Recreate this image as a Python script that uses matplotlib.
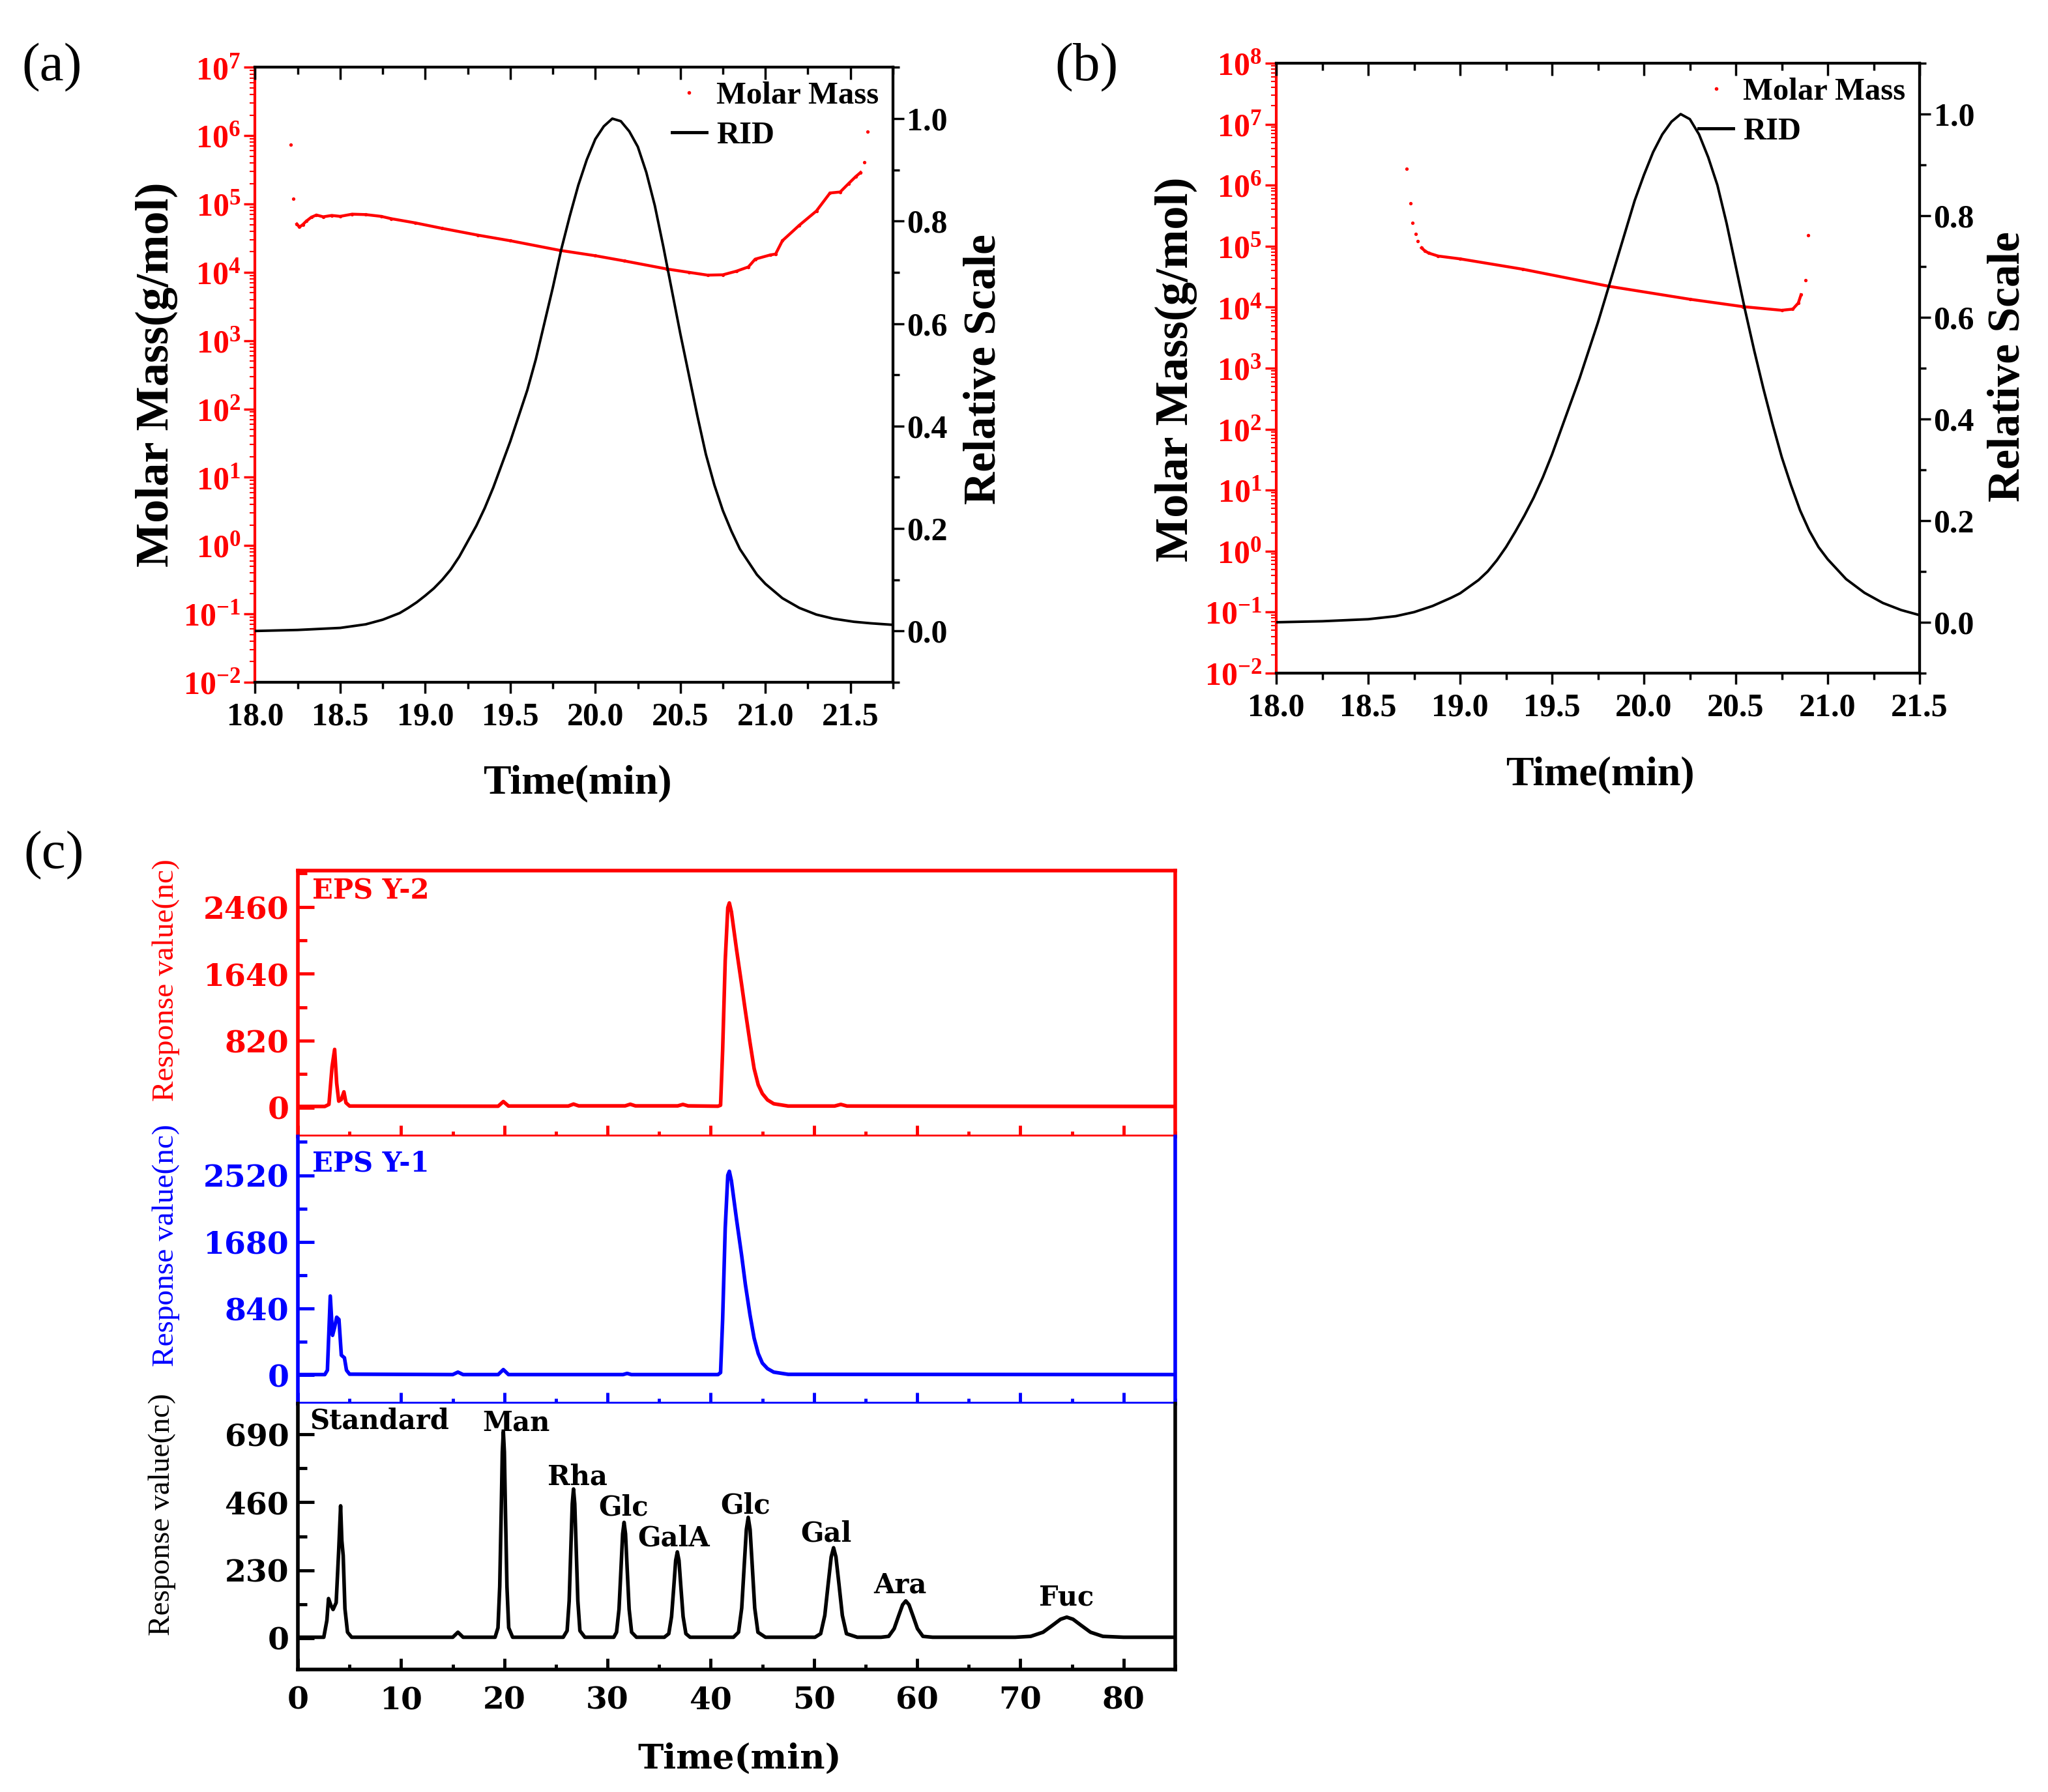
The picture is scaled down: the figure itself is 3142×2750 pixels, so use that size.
import numpy as np
import matplotlib
matplotlib.use('Agg')
import matplotlib.pyplot as plt
from matplotlib.ticker import LogLocator, NullFormatter, MultipleLocator, FormatStrFormatter
from matplotlib.lines import Line2D

plt.rcParams['font.family'] = 'Liberation Serif'
plt.rcParams['mathtext.fontset'] = 'custom'
plt.rcParams['mathtext.rm'] = 'Liberation Serif'
plt.rcParams['mathtext.bf'] = 'Liberation Serif:bold'

# ---- (a) molar mass / RID ----
rid_a_t = [18.0, 18.25, 18.5, 18.65, 18.75, 18.85, 18.9, 18.95, 19.0, 19.05, 19.1, 19.15,
           19.2, 19.25, 19.3, 19.35, 19.4, 19.45, 19.5, 19.55, 19.6, 19.65, 19.7, 19.75,
           19.8, 19.85, 19.9, 19.95, 20.0, 20.05, 20.1, 20.15, 20.2, 20.25, 20.3, 20.35,
           20.4, 20.45, 20.5, 20.55, 20.6, 20.65, 20.7, 20.75, 20.8, 20.85, 20.9, 20.95,
           21.0, 21.1, 21.2, 21.3, 21.4, 21.52, 21.62, 21.75]
rid_a_v = [0.0, 0.002, 0.006, 0.013, 0.022, 0.035, 0.045, 0.056, 0.069, 0.083, 0.1, 0.12,
           0.145, 0.175, 0.205, 0.24, 0.28, 0.325, 0.37, 0.42, 0.47, 0.53, 0.60, 0.67,
           0.745, 0.81, 0.87, 0.92, 0.96, 0.985, 1.0, 0.995, 0.975, 0.945, 0.895, 0.83,
           0.75, 0.665, 0.58, 0.50, 0.42, 0.345, 0.285, 0.235, 0.195, 0.16, 0.135, 0.11,
           0.092, 0.064, 0.045, 0.032, 0.024, 0.018, 0.015, 0.012]
mm_a_t = [18.21, 18.225, 18.245, 18.26, 18.28, 18.30, 18.33, 18.36, 18.40, 18.45, 18.50,
          18.57, 18.65, 18.74, 18.80, 18.94, 19.10, 19.31, 19.50, 19.79, 20.00, 20.17,
          20.42, 20.55, 20.66, 20.75, 20.83, 20.90, 20.94, 21.03, 21.06, 21.10, 21.20,
          21.30, 21.38, 21.44, 21.49, 21.53, 21.56, 21.58, 21.60]
mm_a_v = [7.4e5, 1.2e5, 5.1e4, 4.6e4, 5.0e4, 5.6e4, 6.4e4, 6.9e4, 6.5e4, 6.8e4, 6.6e4,
          7.1e4, 7.0e4, 6.6e4, 6.1e4, 5.3e4, 4.4e4, 3.5e4, 2.9e4, 2.1e4, 1.75e4, 1.47e4,
          1.12e4, 1.0e4, 9.1e3, 9.2e3, 1.04e4, 1.2e4, 1.56e4, 1.8e4, 1.85e4, 2.9e4, 4.9e4,
          7.9e4, 1.45e5, 1.5e5, 2.0e5, 2.5e5, 2.9e5, 4.1e5, 1.14e6]

# ---- (b) molar mass / RID ----
rid_b_t = [18.0, 18.25, 18.5, 18.65, 18.75, 18.85, 18.9, 18.95, 19.0, 19.05, 19.1, 19.15,
           19.2, 19.25, 19.3, 19.35, 19.4, 19.45, 19.5, 19.55, 19.6, 19.65, 19.7, 19.75,
           19.8, 19.85, 19.9, 19.95, 20.0, 20.05, 20.1, 20.15, 20.2, 20.25, 20.3, 20.35,
           20.4, 20.45, 20.5, 20.55, 20.6, 20.65, 20.7, 20.75, 20.8, 20.85, 20.9, 20.95,
           21.0, 21.1, 21.2, 21.3, 21.4, 21.5]
rid_b_v = [0.0, 0.002, 0.006, 0.012, 0.02, 0.032, 0.04, 0.048, 0.057, 0.07, 0.083, 0.1,
           0.122, 0.148, 0.178, 0.21, 0.245, 0.285, 0.33, 0.38, 0.43, 0.48, 0.535, 0.59,
           0.65, 0.71, 0.77, 0.83, 0.88, 0.925, 0.96, 0.985, 1.0, 0.99, 0.96, 0.915,
           0.86, 0.785, 0.70, 0.615, 0.535, 0.46, 0.39, 0.325, 0.27, 0.22, 0.18, 0.148,
           0.124, 0.085, 0.058, 0.038, 0.024, 0.014]
mm_b_t = [18.71, 18.73, 18.74, 18.76, 18.77, 18.79, 18.81, 18.83, 18.88, 19.0, 19.34,
          19.81, 20.25, 20.54, 20.75, 20.81, 20.84, 20.855, 20.88, 20.895]
mm_b_v = [1.86e6, 5.0e5, 2.4e5, 1.6e5, 1.2e5, 9.4e4, 8.3e4, 7.7e4, 6.9e4, 6.2e4, 4.2e4,
          2.2e4, 1.35e4, 1.02e4, 8.9e3, 9.3e3, 1.17e4, 1.6e4, 2.8e4, 1.5e5]

# ---- (c) HPAEC chromatograms ----
y2_t = [0, 2.6, 3.0, 3.3, 3.55, 3.75, 3.95, 4.2, 4.45, 4.65, 5.0, 19.4, 19.9, 20.4,
        26.2, 26.7, 27.2, 31.7, 32.2, 32.7, 36.8, 37.3, 37.8, 40.7, 40.95, 41.15, 41.4,
        41.65, 41.8, 42.0, 42.5, 43.0, 43.35, 43.8, 44.2, 44.6, 45.0, 45.5, 46.1, 47.5,
        52.0, 52.6, 53.2, 85]
y2_v = [15, 15, 40, 500, 714, 300, 80, 100, 194, 60, 20, 18, 75, 20,
        20, 44, 22, 22, 42, 22, 22, 40, 22, 18, 30, 700, 1800,
        2450, 2508, 2400, 1935, 1500, 1186, 800, 480, 280, 172, 95, 48, 20,
        20, 40, 20, 15]

y1_t = [0, 2.6, 2.85, 3.13, 3.35, 3.55, 3.75, 3.97, 4.2, 4.5, 4.7, 5.0, 15.0, 15.5, 16.0,
        19.4, 19.9, 20.4, 31.5, 31.9, 32.3, 40.7, 40.95, 41.15, 41.4, 41.65, 41.8, 42.0,
        42.5, 43.0, 43.35, 43.8, 44.2, 44.6, 45.0, 45.5, 46.1, 47.5, 85]
y1_v = [5, 5, 60, 996, 500, 600, 729, 700, 250, 217, 60, 10, 5, 36, 5,
        5, 68, 5, 5, 20, 5, 5, 30, 700, 1850, 2520, 2570, 2450,
        1960, 1500, 1146, 760, 466, 270, 150, 80, 36, 8, 5]

std_t = [0, 2.5, 2.8, 2.96, 3.2, 3.4, 3.7, 3.95, 4.13, 4.25, 4.38, 4.55, 4.8, 5.2,
         15.0, 15.5, 16.0,
         19.1, 19.38, 19.55, 19.69, 19.8, 19.9, 20.0, 20.11, 20.25, 20.42, 20.8,
         25.7, 26.08, 26.28, 26.44, 26.58, 26.7, 26.82, 26.96, 27.12, 27.32, 27.8,
         30.6, 30.87, 31.11, 31.3, 31.46, 31.6, 31.74, 31.9, 32.09, 32.33, 32.8,
         35.5, 35.93, 36.2, 36.42, 36.6, 36.76, 36.92, 37.1, 37.32, 37.59, 38.0,
         42.2, 42.69, 43.0, 43.24, 43.45, 43.63, 43.81, 44.02, 44.26, 44.57, 45.3,
         50.1, 50.65, 51.05, 51.38, 51.67, 51.9, 52.13, 52.42, 52.75, 53.15, 54.2,
         56.5, 57.24, 57.77, 58.21, 58.59, 58.9, 59.21, 59.59, 60.03, 60.56, 61.5,
         69.5, 71.0, 72.2, 73.1, 73.9, 74.5, 75.1, 75.9, 76.8, 78.0, 80.0, 85]
std_v = [3, 3, 60, 134, 110, 97, 120, 300, 448, 330, 280, 100, 20, 3,
         3, 20, 3,
         3, 35, 175, 420, 630, 700, 630, 420, 175, 35, 3,
         3, 25, 126, 303, 455, 505, 455, 303, 126, 25, 3,
         3, 20, 98, 235, 353, 392, 353, 235, 98, 20, 3,
         3, 15, 73, 175, 263, 292, 263, 175, 73, 15, 3,
         3, 20, 102, 245, 368, 409, 368, 245, 102, 20, 3,
         3, 15, 77, 184, 275, 306, 275, 184, 77, 15, 3,
         3, 6, 32, 76, 113, 126, 113, 76, 32, 6, 3,
         3, 6, 20, 43, 64, 71, 64, 43, 20, 6, 3, 3]

sugar_names = ['Man', 'Rha', 'Glc', 'GalA', 'Glc', 'Gal', 'Ara', 'Fuc']
sugar_label_t = [17.9, 24.2, 29.1, 32.9, 40.95, 48.7, 55.8, 71.8]
sugar_label_v = [730, 547, 442, 339, 448, 354, 179, 137]

fig = plt.figure(figsize=(31.42, 27.5), dpi=100)
bold = dict(weight='bold')


def mw_panel(rect, rid_t, rid_v, mm_t, mm_v, dense, xmax, top_exp):
    ax = fig.add_axes(rect)
    ax.set_yscale('log')
    ax.plot(mm_t[dense], mm_v[dense], color='red', lw=3.2, zorder=2)
    ax.plot(mm_t, mm_v, ls='none', marker='o', ms=3.8, mec='none', color='red', zorder=3)
    ax.set_xlim(18.0, xmax)
    ax.set_ylim(1e-2, 10.0 ** top_exp)
    exps = list(range(-2, top_exp + 1))
    ax.set_yticks([10.0 ** e for e in exps], [r'$\mathbf{10^{%d}}$' % e for e in exps])
    ax.yaxis.set_minor_locator(LogLocator(base=10, subs=np.arange(2, 10), numticks=40))
    ax.yaxis.set_minor_formatter(NullFormatter())
    ax.set_xticks(np.arange(18.0, xmax + 0.01, 0.5))
    ax.xaxis.set_major_formatter(FormatStrFormatter('%.1f'))
    ax.xaxis.set_minor_locator(MultipleLocator(0.25))
    ax.tick_params(axis='y', which='both', colors='red', direction='out', labelsize=36, pad=4)
    ax.tick_params(axis='y', which='major', length=12, width=2.5)
    ax.tick_params(axis='y', which='minor', length=6, width=1.5)
    ax.tick_params(axis='x', which='both', direction='out', labelsize=36, width=2.5)
    ax.tick_params(axis='x', which='major', length=12, pad=10)
    ax.tick_params(axis='x', which='minor', length=7)
    for lab in ax.get_xticklabels():
        lab.set_fontweight('bold')
    for s in ax.spines.values():
        s.set_linewidth(3)
    ax.spines['left'].set_color('red')

    ax2 = ax.twinx()
    ax2.plot(rid_t, rid_v, color='black', lw=2.8)
    ax2.set_ylim(-0.1, 1.1)
    ax2.set_yticks(np.arange(0, 1.01, 0.2))
    ax2.yaxis.set_major_formatter(FormatStrFormatter('%.1f'))
    ax2.yaxis.set_minor_locator(MultipleLocator(0.1))
    ax2.tick_params(axis='y', which='both', direction='out', labelsize=36, width=2.5)
    ax2.tick_params(axis='y', which='major', length=12)
    ax2.tick_params(axis='y', which='minor', length=7)
    for lab in ax2.get_yticklabels():
        lab.set_fontweight('bold')
    ax2.xaxis.set_visible(True)
    ax2.tick_params(axis='x', which='both', bottom=False, top=True, labelbottom=False,
                    labeltop=False, direction='in', width=2.5)
    ax2.tick_params(axis='x', which='major', length=14)
    ax2.tick_params(axis='x', which='minor', length=8)
    ax2.spines['left'].set_visible(False)
    for k in ['top', 'right', 'bottom']:
        ax2.spines[k].set_linewidth(3)

    handles = [Line2D([], [], ls='none', marker='o', ms=4, mec='none', color='red'),
               Line2D([], [], color='black', lw=3.5)]
    ax2.legend(handles, ['Molar Mass', 'RID'], loc='upper right', frameon=False,
               prop=dict(weight='bold', size=35), handlelength=1.1, handletextpad=0.3,
               labelspacing=0.35, borderpad=0.0, borderaxespad=0.45)
    return ax, ax2


mw_panel([0.1246, 0.6193, 0.3114, 0.3431], rid_a_t, rid_a_v, mm_a_t, mm_a_v,
         slice(2, -2), 21.75, 7)
mw_panel([0.6232, 0.6244, 0.3141, 0.3403], rid_b_t, rid_b_v, mm_b_t, mm_b_v,
         slice(5, 18), 21.5, 8)

fig.text(0.0764, 0.791, 'Molar Mass(g/mol)', rotation=90, ha='center', va='center', size=52, **bold)
fig.text(0.4806, 0.7938, 'Relative Scale', rotation=90, ha='center', va='center', size=50, **bold)
fig.text(0.282, 0.5629, 'Time(min)', ha='center', va='center', size=46, **bold)
fig.text(0.5744, 0.7938, 'Molar Mass(g/mol)', rotation=90, ha='center', va='center', size=52, **bold)
fig.text(0.9806, 0.7953, 'Relative Scale', rotation=90, ha='center', va='center', size=50, **bold)
fig.text(0.7814, 0.5673, 'Time(min)', ha='center', va='center', size=46, **bold)

fig.text(0.0255, 0.9622, '(a)', ha='center', va='center', size=60)
fig.text(0.5305, 0.9622, '(b)', ha='center', va='center', size=60)
fig.text(0.0264, 0.5225, '(c)', ha='center', va='center', size=60)

# ---- (c) stacked panels ----
wide = dict(family='DejaVu Serif', weight='bold')


def hpaec_panel(rect, t, v, color, yticks, minor, ylim, last):
    ax = fig.add_axes(rect)
    ax.plot(t, v, color=color, lw=4)
    ax.set_xlim(0, 85)
    ax.set_ylim(*ylim)
    ax.set_yticks(yticks)
    ax.yaxis.set_minor_locator(MultipleLocator(minor))
    ax.set_xticks(np.arange(0, 81, 10))
    ax.xaxis.set_minor_locator(MultipleLocator(5))
    ax.tick_params(axis='y', which='both', direction='in', colors=color, labelsize=34, width=3.5, pad=10)
    ax.tick_params(axis='y', which='major', length=18)
    ax.tick_params(axis='y', which='minor', length=10)
    ax.tick_params(axis='x', which='both', direction='in', colors=color, width=3.5,
                   labelbottom=last, labelsize=34, pad=18)
    ax.tick_params(axis='x', which='major', length=12)
    ax.tick_params(axis='x', which='minor', length=6)
    for lab in ax.get_yticklabels() + ax.get_xticklabels():
        lab.set_fontfamily('DejaVu Serif')
        lab.set_fontweight('bold')
    for s in ax.spines.values():
        s.set_linewidth(4)
        s.set_color(color)
    return ax


axr = hpaec_panel([0.1455, 0.3658, 0.4283, 0.1484], y2_t, y2_v, 'red',
                  [0, 820, 1640, 2460], 410, (-353, 2905), False)
axb = hpaec_panel([0.1455, 0.2167, 0.4283, 0.1491], y1_t, y1_v, 'blue',
                  [0, 840, 1680, 2520], 420, (-362, 3009), False)
axk = hpaec_panel([0.1455, 0.0684, 0.4283, 0.1483], std_t, std_v, 'black',
                  [0, 230, 460, 690], 115, (-106, 794), True)
axb.spines['top'].set_visible(False)
axk.spines['top'].set_visible(False)

axr.text(1.35, 2657, 'EPS Y-2', color='red', ha='left', va='center', size=30, **wide)
axb.text(1.35, 2672, 'EPS Y-1', color='blue', ha='left', va='center', size=30, **wide)
axk.text(1.17, 736, 'Standard', ha='left', va='center', size=30, **wide)
for name, lt, lv in zip(sugar_names, sugar_label_t, sugar_label_v):
    axk.text(lt, lv, name, ha='left', va='center', size=30, **wide)

fig.text(0.0812, 0.4531, 'Response value(nc)', rotation=90, ha='center', va='center', size=34, color='red')
fig.text(0.0812, 0.3051, 'Response value(nc)', rotation=90, ha='center', va='center', size=34, color='blue')
fig.text(0.0792, 0.1549, 'Response value(nc)', rotation=90, ha='center', va='center', size=34, color='black')
fig.text(0.361, 0.0183, 'Time(min)', ha='center', va='center', size=38, **wide)

fig.savefig('out.png', dpi=100)
